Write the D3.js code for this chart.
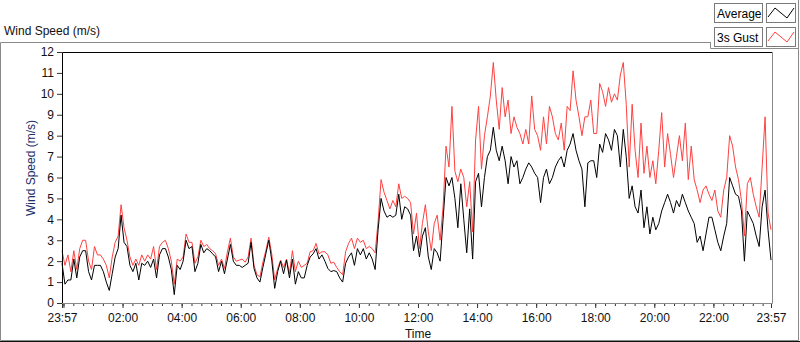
<!DOCTYPE html>
<html>
<head>
<meta charset="utf-8">
<script src="https://cdnjs.cloudflare.com/ajax/libs/d3/7.8.5/d3.min.js"></script>
<style>
body { margin: 0; background: #fff; }
svg text { font-family: "Liberation Sans", Arial, sans-serif; font-size: 12px; }
</style>
</head>
<body>
<div id="grafica"></div>
<script>
// Datos (m/s), una muestra cada 6 minutos
var inicio = new Date(2020, 0, 1, 23, 57);
var fin = new Date(2020, 0, 2, 23, 57);
var pasoMinutos = 6;

var promedio = [
  1.9, 0.9, 1.1, 1.1, 2.1, 1.2, 2.2, 2.5, 2.5, 1.5,
  1.1, 1.8, 1.8, 1.8, 1.5, 1.0, 0.6, 1.4, 2.2, 2.6,
  4.2, 2.9, 2.7, 1.8, 1.5, 1.9, 1.1, 1.9, 1.8, 2.0,
  1.7, 2.1, 1.2, 2.3, 2.6, 2.6, 2.2, 1.6, 0.4, 1.8,
  1.6, 2.0, 3.0, 2.6, 2.7, 1.5, 1.9, 2.8, 2.4, 2.6,
  2.5, 2.35, 2.2, 1.5, 2.0, 1.4, 2.1, 2.8, 2.0, 1.8,
  1.8, 1.7, 1.8, 1.9, 2.9, 1.65, 1.2, 1.0, 1.7, 2.35,
  3.0, 2.05, 0.7, 1.5, 2.0, 1.4, 2.05, 1.2, 2.1, 0.9,
  1.5, 1.2, 1.2, 1.8, 2.2, 2.35, 2.6, 2.1, 2.3, 2.0,
  1.65, 1.5, 1.55, 1.5, 1.2, 1.0, 1.9, 2.2, 2.4, 1.8,
  2.6, 2.3, 2.6, 2.1, 2.4, 2.1, 1.6, 3.5, 5.0, 4.4,
  4.1, 4.2, 4.1, 4.2, 5.2, 4.0, 4.6, 4.5, 4.2, 2.5,
  3.2, 2.2, 3.2, 3.6, 2.2, 1.6, 2.6, 2.4, 2.0, 4.0,
  6.0, 5.6, 6.0, 5.0, 3.6, 5.7, 4.0, 2.4, 4.5, 2.1,
  5.8, 6.2, 4.6, 6.0, 7.0, 7.3, 8.4, 7.3, 6.8, 7.5,
  6.8, 5.7, 7.0, 6.5, 6.8, 5.7, 6.0, 6.4, 6.7, 6.5,
  6.2, 6.0, 4.8, 6.0, 6.4, 5.7, 6.0, 6.5, 6.8, 7.0,
  6.5, 7.3, 7.6, 8.1, 7.3, 6.8, 6.4, 4.6, 6.7, 6.8,
  6.8, 6.0, 7.6, 7.2, 8.1, 7.8, 7.3, 8.3, 8.0, 6.5,
  8.3, 7.0, 5.0, 5.6, 4.6, 4.3, 5.4, 3.6, 4.6, 3.3,
  4.1, 3.5, 3.8, 4.4, 4.8, 5.2, 4.8, 4.3, 4.9, 4.6,
  5.2, 4.8, 4.4, 4.1, 3.8, 2.9, 3.2, 2.5, 3.3, 4.1,
  4.1, 3.5, 2.9, 2.5, 3.2, 3.8, 6.0, 5.6, 5.2, 5.1,
  4.4, 2.0, 4.4, 4.1, 3.8, 3.2, 2.7, 4.6, 5.4, 3.5,
  2.05
];

var rafaga = [
  2.5, 1.8, 2.3, 1.5, 2.5, 1.6, 2.6, 3.0, 3.0, 2.0,
  1.6, 2.7, 2.3, 2.3, 2.1, 1.8, 1.2, 2.2, 2.9, 3.2,
  4.7, 3.6, 3.0, 2.2, 1.8, 2.1, 1.8, 2.3, 2.0, 2.3,
  2.1, 2.7, 1.6, 2.7, 2.9, 3.0, 2.6, 2.0, 0.9, 2.1,
  2.0, 2.2, 3.3, 2.9, 2.9, 1.9, 2.2, 3.0, 2.7, 2.8,
  2.6, 2.5, 2.35, 1.8, 2.1, 1.65, 2.45, 3.1, 2.2, 2.0,
  2.05, 2.1, 1.95, 2.2, 3.1, 1.8, 1.35, 1.25, 1.95, 2.5,
  3.15, 2.35, 1.1, 1.65, 2.05, 1.7, 2.1, 1.4, 2.5, 1.5,
  2.0, 1.7, 1.8, 1.9, 2.45, 2.5, 2.85, 2.35, 2.45, 2.45,
  2.3, 1.9, 1.95, 1.7, 1.5, 1.35, 2.45, 2.85, 3.1, 2.6,
  3.1, 2.9, 3.0, 2.6, 2.7, 2.6, 2.4, 3.9, 5.9, 5.3,
  4.9, 4.5, 4.9, 4.6, 5.7, 5.0, 5.1, 5.0, 4.8, 3.3,
  4.3, 2.6, 3.8, 4.7, 3.4, 2.5, 3.8, 4.2, 3.0, 4.6,
  7.5, 6.5, 9.4, 6.3, 5.8, 6.4, 6.0, 4.6, 5.8, 3.4,
  7.8, 9.4, 6.4, 8.0, 8.9, 9.9, 11.5, 9.7, 8.3, 10.3,
  8.9, 9.7, 8.1, 8.9, 8.4, 8.1, 7.6, 8.3, 7.6, 9.9,
  8.3, 8.0, 7.3, 8.9, 7.6, 9.4, 8.9, 8.1, 7.8, 8.6,
  7.3, 9.4, 9.2, 11.1, 9.7, 8.9, 8.0, 8.9, 8.9, 9.7,
  8.1, 8.1, 10.5, 10.1, 9.4, 10.3, 9.6, 10.0, 9.7, 10.9,
  11.5, 9.5, 6.5, 9.5, 7.3, 6.0, 8.6, 6.2, 7.5, 6.0,
  6.8, 5.7, 7.3, 9.1, 6.5, 8.1, 7.1, 6.0, 7.0, 8.0,
  6.8, 8.6, 5.9, 7.5, 5.9, 5.4, 4.8, 5.4, 5.6, 5.2,
  4.9, 5.4, 4.4, 4.1, 5.4, 6.0, 8.0, 7.5, 6.5, 5.9,
  4.9, 3.2, 5.7, 6.0, 5.2, 4.6, 4.1, 6.5, 8.9, 4.3,
  3.5
];

var yTicks = [0, 1, 2, 3, 4, 5, 6, 7, 8, 9, 10, 11, 12];
var nombres = ["Average", "3s Gust"];
var colores = ["#000000", "#ff4040"];

var ancho = 800, alto = 342;
var margen = { izq: 62, der: 771, sup: 52, inf: 303 };

var svg = d3.select("#grafica")
  .append("svg")
  .attr("width", ancho)
  .attr("height", alto);

// Marco exterior del control
svg.append("path")
  .attr("d", "M710,42.5 H0.5 V340.5 H798.5 V0")
  .attr("fill", "none")
  .attr("stroke", "#8a8a8a");
svg.append("line")
  .attr("x1", 0).attr("x2", 800).attr("y1", 341.5).attr("y2", 341.5)
  .attr("stroke", "#111");
svg.append("path")
  .attr("d", "M710.5,42 V48.5 H798")
  .attr("fill", "none")
  .attr("stroke", "#8a8a8a");

svg.append("text")
  .attr("x", 4).attr("y", 35)
  .attr("fill", "#111")
  .text("Wind Speed (m/s)");

var x = d3.scaleTime()
  .domain([inicio, fin])
  .range([margen.izq, margen.der]);

var y = d3.scaleLinear()
  .domain([0, 12])
  .range([margen.inf, margen.sup]);

function tiempo(i) {
  return d3.timeMinute.offset(inicio, i * pasoMinutos);
}

// Ejes
var mayores = [inicio].concat(d3.timeHour.every(2).range(new Date(2020, 0, 2, 2, 0), fin)).concat([fin]);
var menores = d3.timeMinute.every(20).range(new Date(2020, 0, 2, 0, 0), fin);

var ejeXMenor = svg.append("g")
  .attr("transform", "translate(0," + margen.inf + ")")
  .call(d3.axisBottom(x).tickValues(menores).tickSize(3).tickFormat(""));
ejeXMenor.select(".domain").remove();

var ejeX = svg.append("g")
  .attr("transform", "translate(0," + margen.inf + ")")
  .call(d3.axisBottom(x).tickValues(mayores.concat([new Date(2020, 0, 2, 0, 0)]))
    .tickSize(5).tickPadding(5)
    .tickFormat(function(d) {
      return d.getHours() === 0 && d.getMinutes() === 0 ? "" : d3.timeFormat("%H:%M")(d);
    }));
ejeX.select(".domain").remove();
ejeX.selectAll("text").attr("fill", "#111").style("font-size", "12px");
svg.selectAll(".tick line").attr("stroke", "#333");

var ejeY = svg.append("g")
  .attr("transform", "translate(" + margen.izq + ",0)")
  .call(d3.axisLeft(y).tickValues(yTicks).tickSize(5).tickPadding(3));
ejeY.select(".domain").remove();
ejeY.selectAll("text").attr("fill", "#111").style("font-size", "12px");
ejeY.selectAll(".tick line").attr("stroke", "#333");

// Area de grafica
svg.append("rect")
  .attr("x", margen.izq).attr("y", margen.sup)
  .attr("width", margen.der - margen.izq + 1)
  .attr("height", margen.inf - margen.sup)
  .attr("fill", "#fff");

var linea = d3.line()
  .x(function(d, i) { return x(tiempo(i)); })
  .y(function(d) { return y(d); });

svg.append("path")
  .datum(rafaga)
  .attr("d", linea)
  .attr("fill", "none")
  .attr("stroke", colores[1])
  .attr("stroke-width", 1);

svg.append("path")
  .datum(promedio)
  .attr("d", linea)
  .attr("fill", "none")
  .attr("stroke", colores[0])
  .attr("stroke-width", 1);

// Borde del area: arriba/izquierda oscuro, abajo/derecha gris
svg.append("path")
  .attr("d", "M" + (margen.izq + 0.5) + "," + margen.inf + " V" + (margen.sup + 0.5) + " H" + (margen.der + 1.5))
  .attr("fill", "none").attr("stroke", "#000");
svg.append("path")
  .attr("d", "M" + (margen.izq) + "," + (margen.inf + 0.5) + " H" + (margen.der + 1.5) + " V" + margen.sup)
  .attr("fill", "none").attr("stroke", "#8a8a8a");

svg.append("text")
  .attr("x", 418).attr("y", 338)
  .attr("text-anchor", "middle")
  .attr("fill", "#111")
  .text("Time");

svg.append("text")
  .attr("transform", "translate(35,168) rotate(-90)")
  .attr("text-anchor", "middle")
  .attr("fill", "#1c2f6b")
  .text("Wind Speed (m/s)");

// Leyenda
var leyenda = svg.append("g").selectAll("g")
  .data(nombres)
  .enter()
  .append("g")
  .attr("transform", function(d, i) { return "translate(0," + (i * 24) + ")"; });

leyenda.append("rect")
  .attr("x", 714.5).attr("y", 3.5).attr("width", 48).attr("height", 19)
  .attr("fill", "#fff").attr("stroke", "#7a7a7a");
leyenda.append("rect")
  .attr("x", 766.5).attr("y", 3.5).attr("width", 29).attr("height", 19)
  .attr("fill", "#fff").attr("stroke", "#7a7a7a");
leyenda.append("text")
  .attr("x", 717).attr("y", 17.5)
  .attr("fill", "#000")
  .text(function(d) { return d; });
leyenda.append("path")
  .attr("d", "M768,17 L775,8 L787,18 L794,8")
  .attr("fill", "none")
  .attr("stroke", function(d, i) { return colores[i]; });
</script>
</body>
</html>
